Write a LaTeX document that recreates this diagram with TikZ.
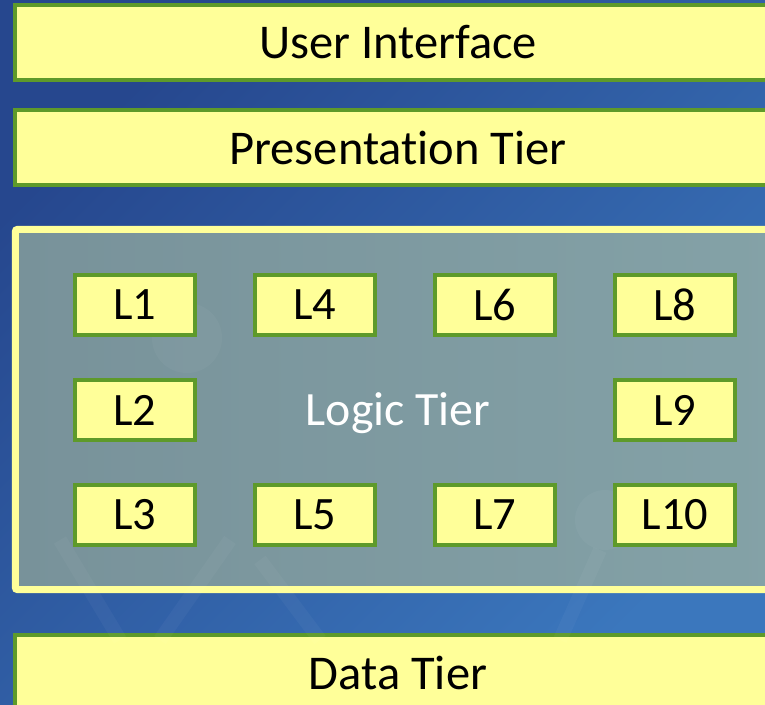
\documentclass[tikz,border=0pt]{standalone}
\usepackage{fontspec}
\setmainfont[Ligatures=NoCommon]{Carlito}

\definecolor{bgdark}{HTML}{26478E}
\definecolor{bglight}{HTML}{3B77BD}
\definecolor{tiergreen}{HTML}{5E9A2A}
\definecolor{tieryellow}{HTML}{FFFF99}
\definecolor{logicleft}{HTML}{78929A}
\definecolor{logicright}{HTML}{84A2A7}

\tikzset{
	tier/.style={draw=tiergreen, line width=0.1cm, fill=tieryellow, inner sep=0pt,
		minimum width=19.15cm, minimum height=1.875cm, font=\fontsize{34.5}{40}\selectfont},
	lbox/.style={draw=tiergreen, line width=0.1cm, fill=tieryellow, inner sep=0pt,
		minimum width=3cm, minimum height=1.5cm, font=\fontsize{33}{40}\selectfont},
	logicbox/.style={draw=tieryellow, line width=0.175cm, rounded corners=0.05cm,
		left color=logicleft, right color=logicright, inner sep=0pt, text depth=0pt,
		minimum width=19.125cm, minimum height=9cm, text=white, font=\fontsize{34}{40}\selectfont},
	faint/.style={white, opacity=0.035, line width=0.35cm},
}

\begin{document}
\begin{tikzpicture}[x=0.025cm, y=-0.025cm]
		\useasboundingbox (0,0) rectangle (765,705);
		\shade[top color=bgdark, bottom color=bglight, shading angle=45] (0,0) rectangle (765,705);
		\begin{scope}
			\clip (0,0) rectangle (765,705);
			% tiers
			\node[tier] (ui) at (398,42.5) {User Interface};
			\node[tier] (pres) at (398,147.5) {Presentation Tier};
			\node[logicbox] (logic) at (398,409.5) {Logic Tier};
			\node[tier] (data) at (398,672.5) {Data Tier};
			% faint watermark
			\fill[faint] (187,338) circle (35);
			\fill[faint] (605,520) circle (30);
			\draw[faint] (60,540) -- (120,640);
			\draw[faint] (230,540) -- (160,640);
			\draw[faint] (260,560) -- (320,640);
			\draw[faint] (600,550) -- (560,640);
			% logic components
			\node[lbox] (l1) at (135,305) {L1};
			\node[lbox] (l2) at (135,410) {L2};
			\node[lbox] (l3) at (135,515) {L3};
			\node[lbox] (l4) at (315,305) {L4};
			\node[lbox] (l5) at (315,515) {L5};
			\node[lbox] (l6) at (495,305) {L6};
			\node[lbox] (l7) at (495,515) {L7};
			\node[lbox] (l8) at (675,305) {L8};
			\node[lbox] (l9) at (675,410) {L9};
			\node[lbox] (l10) at (675,515) {L10};
		\end{scope}
	\end{tikzpicture}
\end{document}
